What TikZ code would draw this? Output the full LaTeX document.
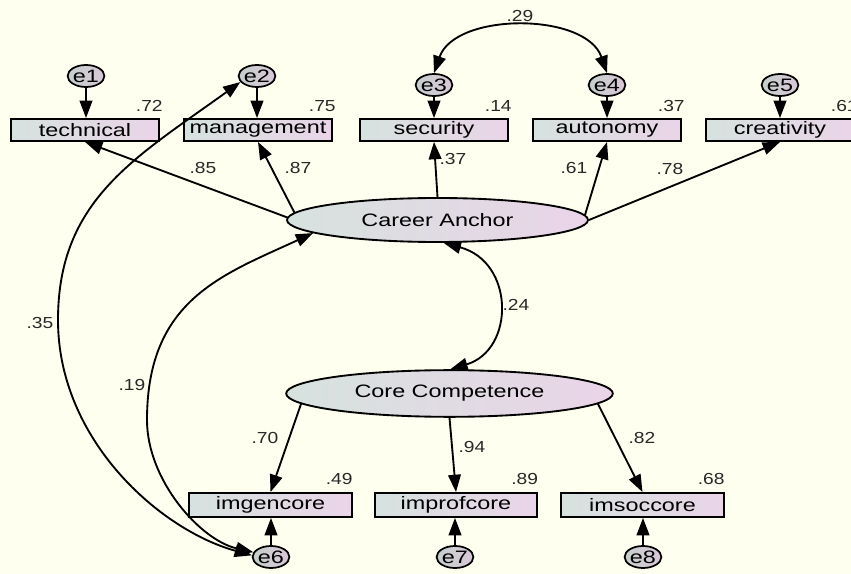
\documentclass[tikz,border=0pt]{standalone}
\usepackage{fontspec}
\setmainfont{Liberation Sans}
\usetikzlibrary{arrows.meta,shapes.geometric,calc}
\definecolor{bgc}{RGB}{255,255,240}
\definecolor{lcol}{RGB}{214,226,222}
\definecolor{rcol}{RGB}{234,212,232}
\definecolor{numc}{RGB}{40,40,40}
\newcommand{\mywide}[1]{\scalebox{1.3}[1]{#1}}
\newcommand{\mynum}[1]{\scalebox{1.2}[1]{#1}}
\begin{document}
\begin{tikzpicture}[x=0.75pt,y=-0.75pt,
  obs/.style={draw=black, line width=1.4pt, left color=lcol, right color=rcol,
    minimum width=111pt, minimum height=16.5pt, inner sep=0pt,
    font=\fontsize{13.5}{14}\selectfont},
  obsb/.style={obs, minimum width=122pt, minimum height=18pt},
  lat/.style={ellipse, draw=black, line width=1.4pt, left color=lcol, right color=rcol,
    inner sep=0pt, font=\fontsize{13.5}{14}\selectfont},
  err/.style={ellipse, draw=black, line width=1.3pt, left color=lcol!80!gray, right color=rcol!85!gray,
    minimum width=19pt, minimum height=16.5pt, inner sep=0pt,
    font=\fontsize{13.5}{14}\selectfont},
  num/.style={font=\fontsize{12}{13}\selectfont, text=numc, inner sep=0pt},
  conn/.style={line width=1.4pt, -{Triangle[length=13pt,width=9.5pt]}},
  conntwo/.style={line width=1.4pt, {Triangle[length=13pt,width=9.5pt]}-{Triangle[length=13pt,width=9.5pt]}}
]
\useasboundingbox (0,0) rectangle (851,574);
\fill[bgc] (0,0) rectangle (851,574);
\clip (0,0) rectangle (851,574);

% observed variables (top)
\node[obs] (tech) at (85,130) {\mywide{technical}};
\node[obs] (mgmt) at (258,130) {\mywide{management}};
\node[obs] (sec) at (434,130) {\mywide{security}};
\node[obs] (aut) at (607,130) {\mywide{autonomy}};
\node[obs] (cre) at (780,130) {\mywide{creativity}};

% errors (top)
\node[err] (e1) at (86,76) {\mywide{e1}};
\node[err] (e2) at (257,76) {\mywide{e2}};
\node[err] (e3) at (434,85) {\mywide{e3}};
\node[err] (e4) at (607,85) {\mywide{e4}};
\node[err] (e5) at (780,85) {\mywide{e5}};

% latent
\node[lat, minimum width=225.75pt, minimum height=33pt] (CA) at (437.5,220) {\mywide{Career Anchor}};
\node[lat, minimum width=245pt, minimum height=35pt] (CC) at (449.5,393.5) {\mywide{Core Competence}};

% observed (bottom)
\node[obsb] (img) at (270.5,505) {\mywide{imgencore}};
\node[obsb] (imp) at (456,505) {\mywide{improfcore}};
\node[obsb] (ims) at (642.5,505) {\mywide{imsoccore}};

% errors (bottom)
\node[err] (e6) at (271,557) {\mywide{e6}};
\node[err] (e7) at (455,557) {\mywide{e7}};
\node[err] (e8) at (643,557) {\mywide{e8}};

% error arrows
\draw[conn] (e1.south) -- (e1.south |- tech.north);
\draw[conn] (e2.south) -- (e2.south |- mgmt.north);
\draw[conn] (e3.south) -- (e3.south |- sec.north);
\draw[conn] (e4.south) -- (e4.south |- aut.north);
\draw[conn] (e5.south) -- (e5.south |- cre.north);
\draw[conn] (e6.north) -- (e6.north |- img.south);
\draw[conn] (e7.north) -- (e7.north |- imp.south);
\draw[conn] (e8.north) -- (e8.north |- ims.south);

% loadings
\draw[conn] (CA.179) -- (tech.south);
\draw[conn] (CA.177) -- (mgmt.south);
\draw[conn] (CA.north) -- (sec.south);
\draw[conn] (CA.2) -- (aut.south);
\draw[conn] (CA.0) -- (cre.south);
\draw[conn] (CC.184) -- (img.north);
\draw[conn] (CC.south) -- (imp.north);
\draw[conn] (CC.356.5) -- (ims.north);

% covariances
\draw[conntwo] (e3.north) .. controls (455,12) and (586,12) .. (e4.north);
\draw[conntwo] (CA.-75) .. controls (515,262) and (515,350) .. (CC.88);
\draw[conntwo] (e2.200) .. controls (135,158) and (58,200) .. (58,320)
  .. controls (58,440) and (160,530) .. (e6.175);
\draw[conntwo] (CA.186) .. controls (222,275) and (147,300) .. (147,420)
  .. controls (147,480) and (200,540) .. (e6.165);

% squared multiple correlations
\node[num, anchor=south east] at ($(tech.north east)+(3,-6)$) {\mynum{.72}};
\node[num, anchor=south east] at ($(mgmt.north east)+(3,-6)$) {\mynum{.75}};
\node[num, anchor=south east] at ($(sec.north east)+(3,-6)$) {\mynum{.14}};
\node[num, anchor=south east] at ($(aut.north east)+(3,-6)$) {\mynum{.37}};
\node[num, anchor=south east] at ($(cre.north east)+(3,-6)$) {\mynum{.61}};
\node[num, anchor=south east] at ($(img.north east)+(0,-7)$) {\mynum{.49}};
\node[num, anchor=south east] at ($(imp.north east)+(0,-7)$) {\mynum{.89}};
\node[num, anchor=south east] at ($(ims.north east)+(0,-7)$) {\mynum{.68}};

% path coefficients
\node[num] at (203,168) {\mynum{.85}};
\node[num] at (298,168) {\mynum{.87}};
\node[num] at (453,159) {\mynum{.37}};
\node[num] at (574,168) {\mynum{.61}};
\node[num] at (670,169) {\mynum{.78}};
\node[num] at (520,16) {\mynum{.29}};
\node[num] at (516,305) {\mynum{.24}};
\node[num] at (40,323) {\mynum{.35}};
\node[num] at (132,385) {\mynum{.19}};
\node[num] at (265,438) {\mynum{.70}};
\node[num] at (472,447) {\mynum{.94}};
\node[num] at (642,438) {\mynum{.82}};
\end{tikzpicture}
\end{document}
